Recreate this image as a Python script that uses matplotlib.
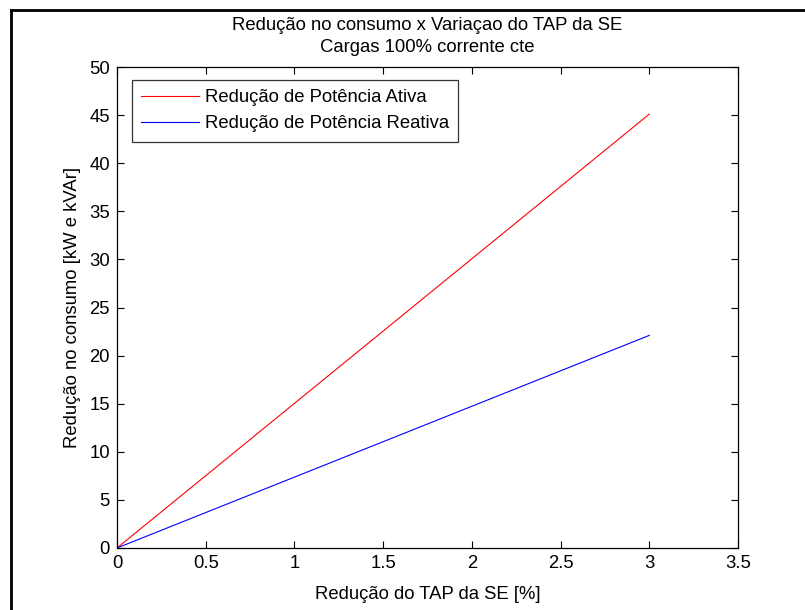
import matplotlib
matplotlib.use('Agg')
import matplotlib.pyplot as plt
from matplotlib.lines import Line2D

plt.rcParams['font.family'] = ['Liberation Sans', 'DejaVu Sans']

# data
tap = [0, 3]
p_ativa = [0, 45.1]
p_reativa = [0, 22.1]
x_ticks = [0, 0.5, 1, 1.5, 2, 2.5, 3, 3.5]
y_ticks = [0, 5, 10, 15, 20, 25, 30, 35, 40, 45, 50]

FS = 13.3

fig = plt.figure(figsize=(8.05, 6.1), dpi=100)
ax = fig.add_axes([117/805, 1 - 548/610, (738 - 117)/805, (548 - 67)/610])

ax.plot(tap, p_ativa, color='red', lw=0.8, label='Redução de Potência Ativa')
ax.plot(tap, p_reativa, color='blue', lw=0.8, label='Redução de Potência Reativa')

ax.set_xlim(0, 3.5)
ax.set_ylim(0, 50)
ax.set_xticks(x_ticks)
ax.set_xticklabels(['0', '0.5', '1', '1.5', '2', '2.5', '3', '3.5'])
ax.set_yticks(y_ticks)
ax.tick_params(direction='in', top=True, right=True, length=5, width=0.8,
               labelsize=FS, pad=5)
for s in ax.spines.values():
  s.set_linewidth(0.9)

ax.set_title('Redução no consumo x Variaçao do TAP da SE\nCargas 100% corrente cte',
             fontsize=FS, pad=11, linespacing=1.4)
ax.set_xlabel('Redução do TAP da SE [%]', fontsize=FS, labelpad=10)
ax.set_ylabel('Redução no consumo [kW e kVAr]', fontsize=FS, labelpad=6)

leg = ax.legend(loc='upper left', bbox_to_anchor=((132 - 117)/621, 1 - (80 - 67)/481),
                fontsize=FS, frameon=True, fancybox=False, borderpad=0.5,
                labelspacing=0.5, handlelength=3.1, handletextpad=0.35,
                borderaxespad=0)
leg.get_frame().set_edgecolor('black')
leg.get_frame().set_linewidth(0.9)

# figure frame (cut off at right and bottom)
fig.add_artist(Line2D([11/805, 11/805], [0, 1 - 10/610], transform=fig.transFigure,
                      color='black', lw=2))
fig.add_artist(Line2D([11/805, 1], [1 - 10/610, 1 - 10/610], transform=fig.transFigure,
                      color='black', lw=2))

fig.savefig('out.png', dpi=100)
